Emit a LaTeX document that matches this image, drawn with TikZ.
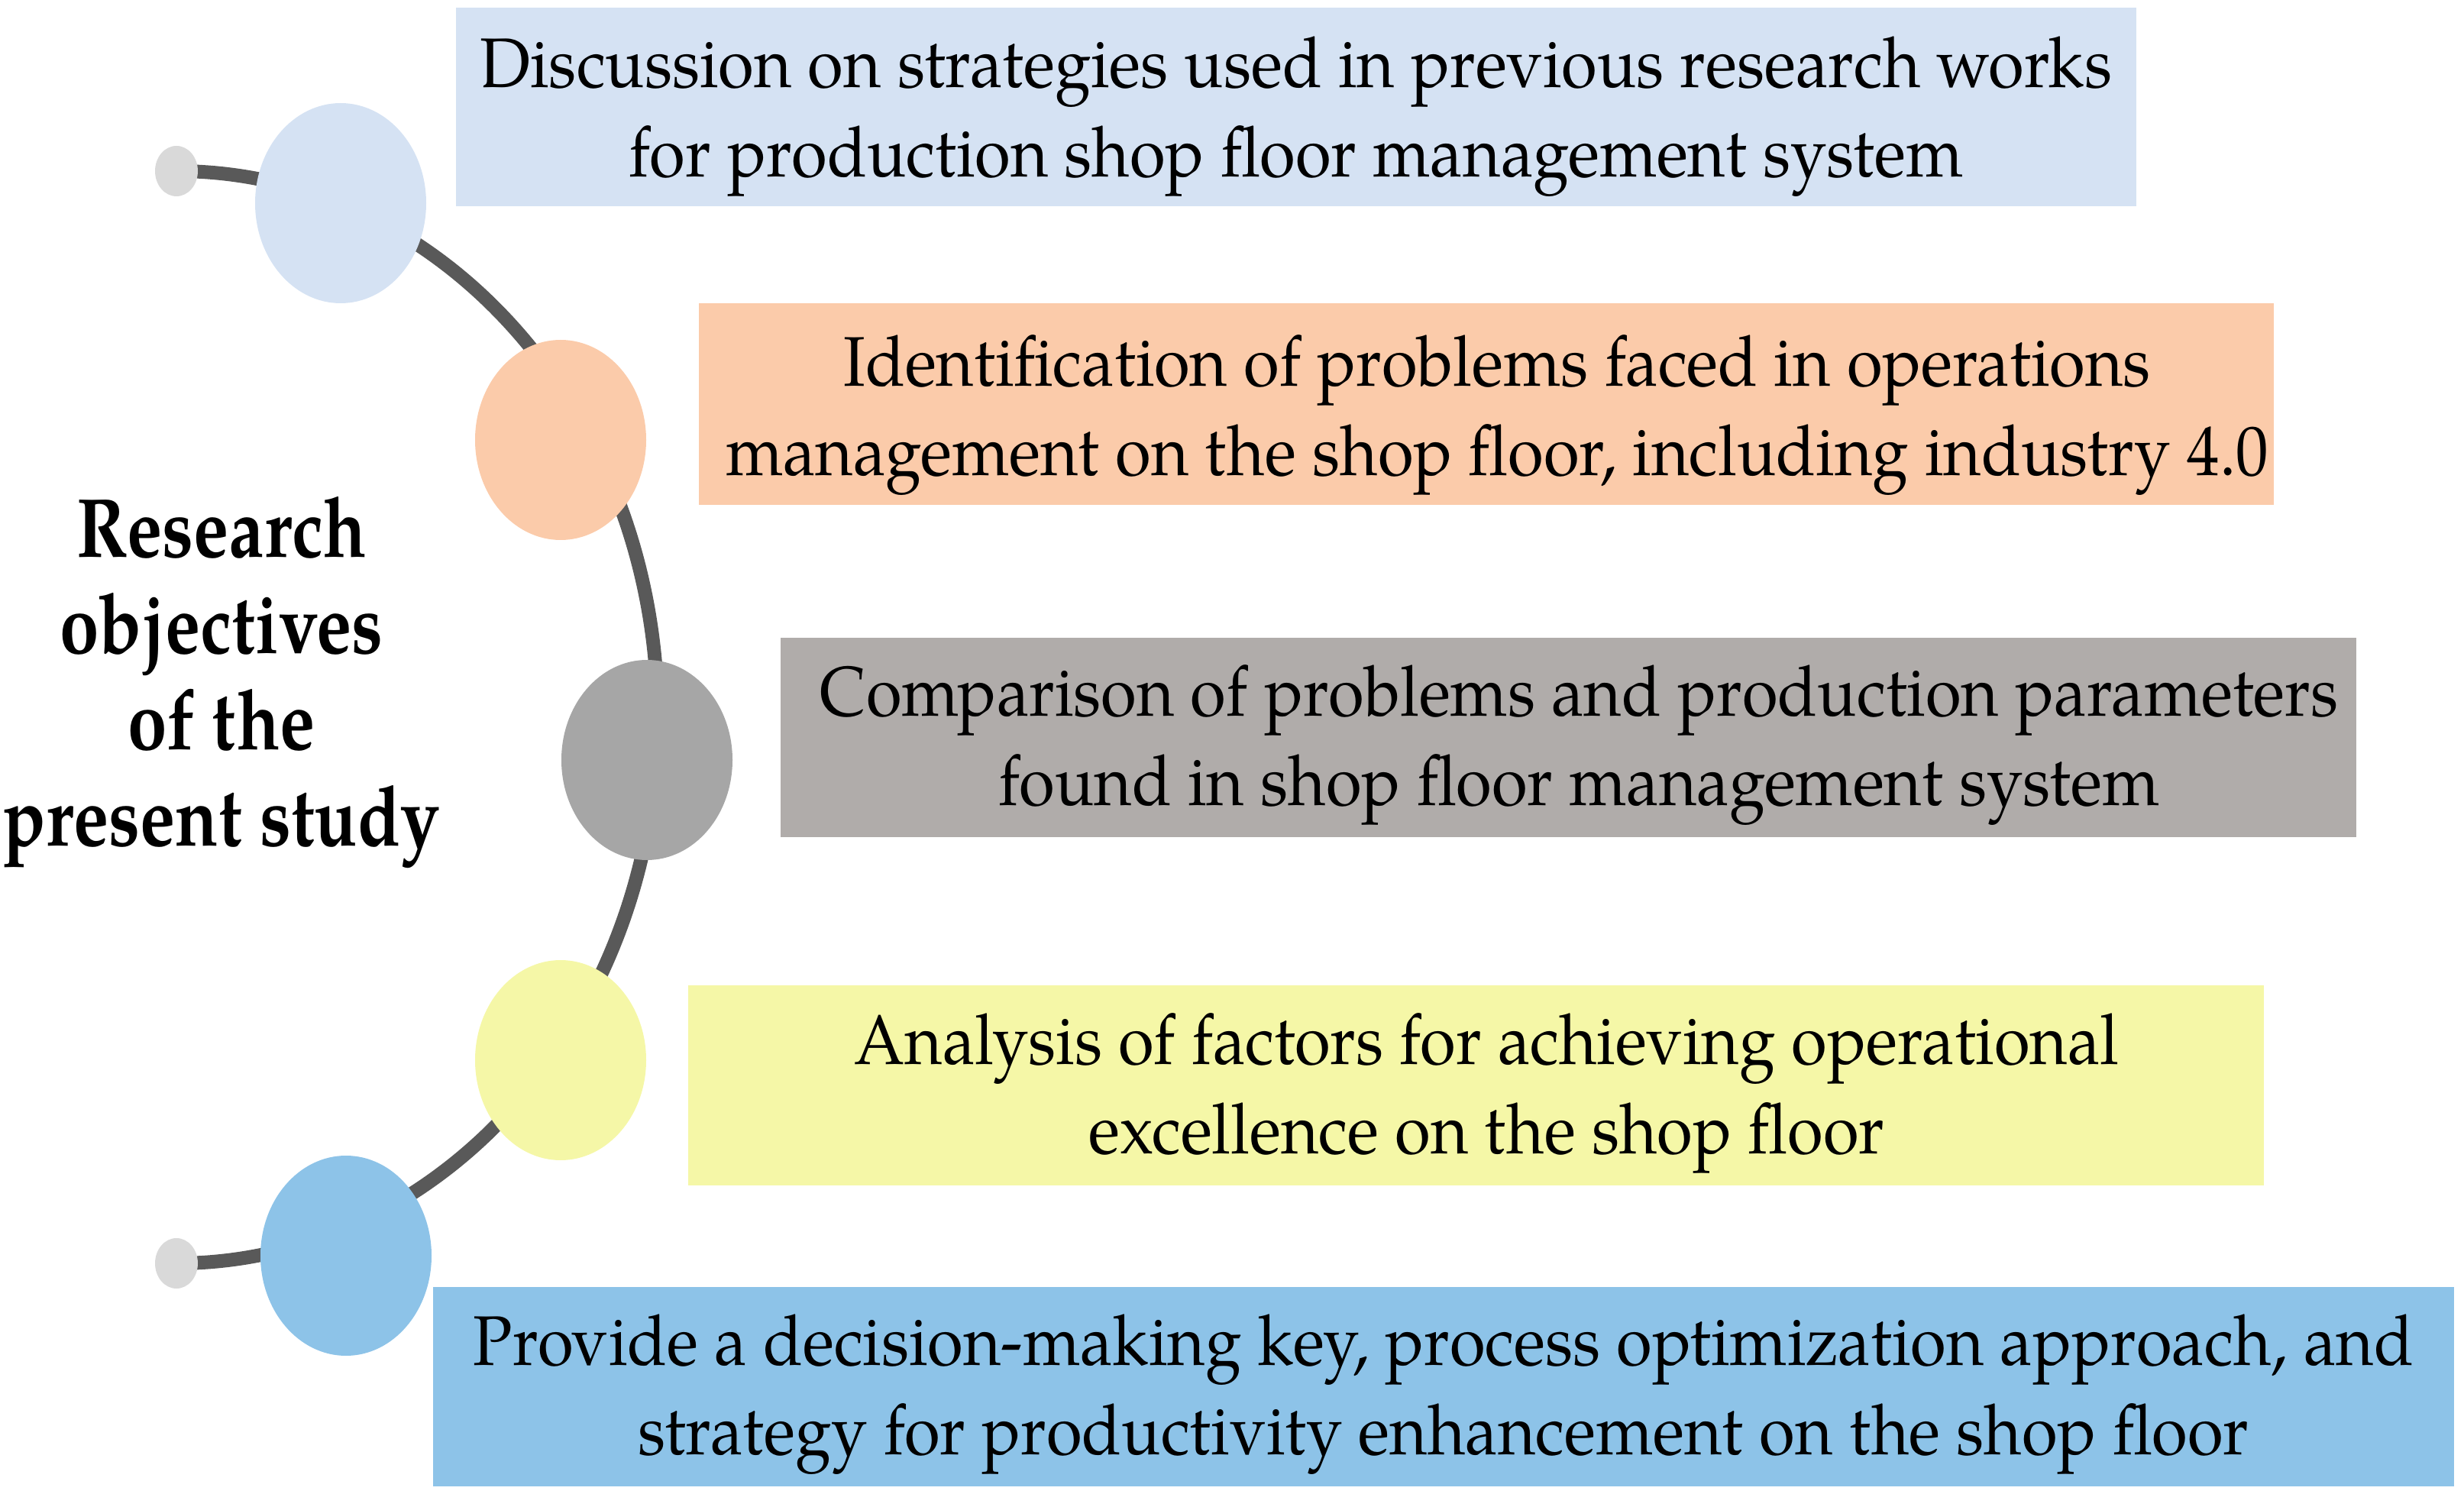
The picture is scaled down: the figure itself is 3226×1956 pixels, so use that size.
\documentclass[tikz,border=0pt]{standalone}
\usepackage{fontspec}
\setmainfont{TeX Gyre Pagella}[FakeStretch=0.925]
\newfontfamily\titlefont{TeX Gyre Pagella}[FakeStretch=0.84]
\usetikzlibrary{shapes.geometric,backgrounds}
\definecolor{cblue}{HTML}{D5E2F3}
\definecolor{corange}{HTML}{FBCBAA}
\definecolor{cgraybox}{HTML}{B0ACAA}
\definecolor{cgrayell}{HTML}{A6A6A6}
\definecolor{cyellow}{HTML}{F5F7A7}
\definecolor{cdblue}{HTML}{8DC3E8}
\definecolor{cdot}{HTML}{D9D9D9}
\definecolor{cline}{HTML}{595959}
\begin{document}
\begin{tikzpicture}[x=0.25pt,y=-0.25pt,
  objbox/.style={rectangle, inner sep=0pt},
  objtext/.style={inner sep=0pt, align=center,
    font=\fontsize{23pt}{29.3pt}\selectfont},
  bead/.style={ellipse, inner sep=0pt, minimum width=56pt, minimum height=65.5pt},
  enddot/.style={ellipse, inner sep=0pt, fill=cdot, minimum width=14pt, minimum height=16.5pt},
  spine/.style={draw=cline, line width=4.5pt},
  title/.style={align=center, font=\titlefont\fontsize{27.5pt}{31.5pt}\selectfont\bfseries}]
\useasboundingbox (0,0) rectangle (3226,1956);

% boxes
\node[objbox, fill=cblue, minimum width=550pt, minimum height=65pt] (b1) at (1697,140) {};
\node[objbox, fill=corange, minimum width=515.5pt, minimum height=66pt] (b2) at (1946,529) {};
\node[objbox, fill=cgraybox, minimum width=515.75pt, minimum height=65.25pt] (b3) at (2053.5,965.5) {};
\node[objbox, fill=cyellow, minimum width=515.75pt, minimum height=65.5pt] (b4) at (1932.5,1421) {};
\node[objbox, fill=cdblue, minimum width=661.5pt, minimum height=65.25pt] (b5) at (1890,1815.5) {};

\node[objtext] (l1) at ([yshift=-3.2pt]b1.center)
  {Discussion on strategies used in previous research works\\for production shop floor management system};
\node[objtext] (l2) at ([xshift=3.5pt,yshift=-3.6pt]b2.center)
  {Identification of problems faced in operations\\management on the shop floor, including industry 4.0};
\node[objtext] (l3) at ([xshift=3.5pt,yshift=-2.6pt]b3.center)
  {Comparison of problems and production parameters\\found in shop floor management system};
\node[objtext] (l4) at ([xshift=3.5pt,yshift=-2.6pt]b4.center)
  {Analysis of factors for achieving operational\\excellence on the shop floor};
\node[objtext] (l5) at ([yshift=-2.6pt]b5.center)
  {Provide a decision-making key, process optimization approach, and\\strategy for productivity enhancement on the shop floor};

% title
\node[title] (t) at (290,894) {Research\\objectives\\of the\\present study};

% end dots and beads
\node[enddot] (d1) at (231,224) {};
\node[enddot] (d2) at (231,1654) {};
\node[bead, fill=cblue] (e1) at (446,266) {};
\node[bead, fill=corange] (e2) at (734,576) {};
\node[bead, fill=cgrayell] (e3) at (847,995) {};
\node[bead, fill=cyellow] (e4) at (734,1388) {};
\node[bead, fill=cdblue] (e5) at (453,1644) {};

% spine arc from top dot to bottom dot
\begin{scope}[on background layer]
\draw[spine] (d1.center) arc[start angle=90, end angle=-90, x radius=157.5pt, y radius=178.75pt];
\end{scope}
\end{tikzpicture}
\end{document}
